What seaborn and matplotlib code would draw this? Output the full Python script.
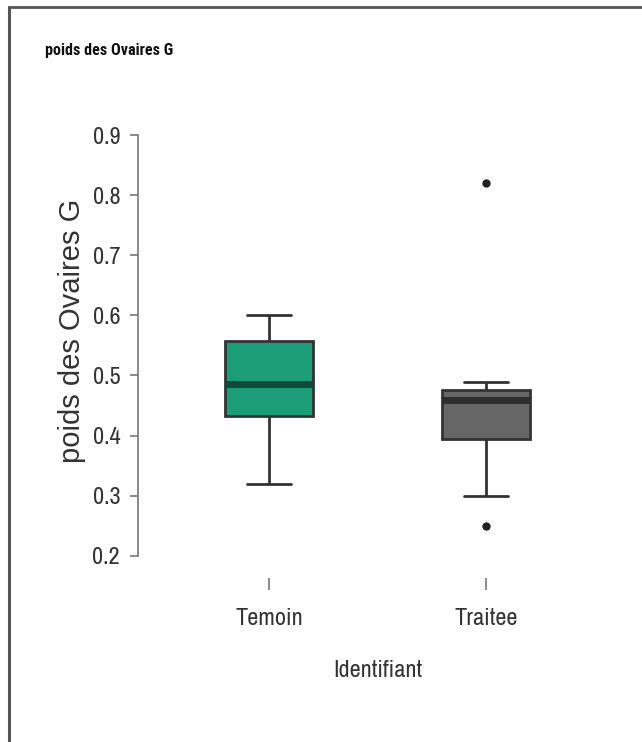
import seaborn as sns
import matplotlib.pyplot as plt
import pandas as pd

# data (raw values chosen to give the drawn quartiles)
groups = ["Temoin", "Traitee"]
temoin = [0.32, 0.40, 0.432, 0.46, 0.485, 0.52, 0.557, 0.58, 0.60]
traitee = [0.25, 0.30, 0.39, 0.398, 0.44, 0.46, 0.47, 0.474, 0.478, 0.489, 0.82]
box_colors = ["#1b9e77", "#666666"]
median_colors = ["#0f4a38", "#2e2e2e"]
yticks = [0.2, 0.3, 0.4, 0.5, 0.6, 0.7, 0.8, 0.9]

df = pd.DataFrame({
    "Identifiant": ["Temoin"] * len(temoin) + ["Traitee"] * len(traitee),
    "poids": temoin + traitee,
})

narrow = ["Arial Narrow", "Liberation Sans Narrow", "Archivo Narrow", "PT Sans Narrow",
          "Roboto Condensed", "Liberation Sans", "DejaVu Sans"]

sns.set_style("white")
plt.rcParams["font.family"] = narrow

fig = plt.figure(figsize=(6.42, 7.42), dpi=100)
ax = fig.add_axes([138 / 642, 0.2210, 479 / 642, 0.6213])

sns.boxplot(data=df, x="Identifiant", y="poids", hue="Identifiant", order=groups,
            palette=box_colors, saturation=1, width=0.405, linewidth=2,
            linecolor="#333333", fliersize=5, legend=False, ax=ax,
            flierprops=dict(marker="o", markerfacecolor="#222222", markeredgecolor="#222222"),
            medianprops=dict(linewidth=5))

# median colours differ per box
for cont, mc in zip(ax.containers, median_colors):
    for med in cont.medians:
        med.set_color(mc)

ax.set_xlim(-0.604, 1.604)
ax.set_ylim(0.163, 0.93)
ax.set_yticks(yticks)
ax.set_yticklabels([f"{t:.1f}" for t in yticks])

for s in ["top", "right", "bottom"]:
    ax.spines[s].set_visible(False)
ax.spines["left"].set_bounds(0.2, 0.9)
ax.spines["left"].set_color("#777777")
ax.spines["left"].set_linewidth(1.2)

ax.tick_params(axis="y", direction="out", length=5.8, width=1.2, color="#777777",
               pad=7, labelsize=17.5, labelcolor="#333333", left=True)
ax.tick_params(axis="x", direction="out", length=8.6, width=1.2, color="#777777",
               pad=13, labelsize=17.5, labelcolor="#333333", bottom=True)

ax.set_xlabel("Identifiant", fontsize=17.5, color="#333333", labelpad=22)
ax.set_ylabel("poids des Ovaires G", fontsize=21, color="#333333",
              family=["Liberation Sans", "DejaVu Sans"])
ax.yaxis.set_label_coords(-0.109, 0.536)

fig.text(45 / 642, 1 - 50 / 742, "poids des Ovaires G", fontsize=11.6,
         fontweight="bold", color="#111111", va="center", ha="left",
         family=["Roboto Condensed", "Liberation Sans", "DejaVu Sans"])

# frame lines at the top and left of the picture
fig.add_artist(plt.Line2D([8.5 / 642, 1], [1 - 6.5 / 742, 1 - 6.5 / 742],
                          color="#555555", linewidth=2))
fig.add_artist(plt.Line2D([8.5 / 642, 8.5 / 642], [0, 1 - 6.5 / 742],
                          color="#555555", linewidth=2.2))

fig.savefig("out.png", dpi=100)
